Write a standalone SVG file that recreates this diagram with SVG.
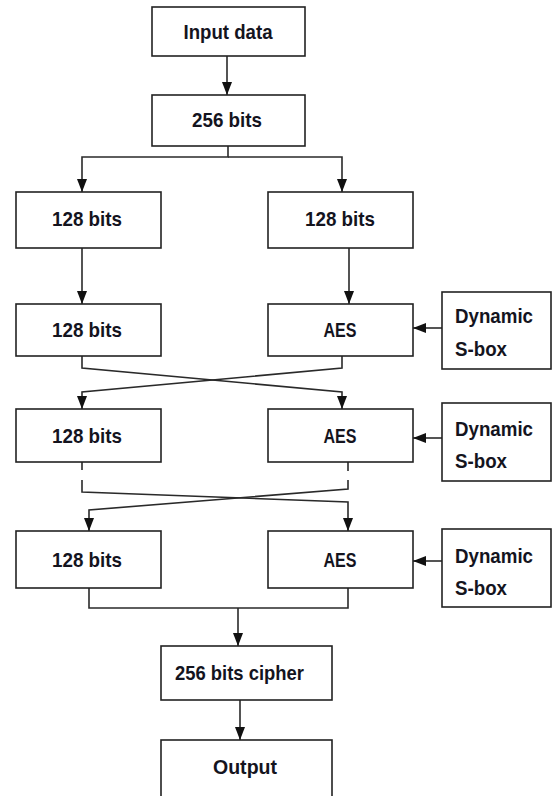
<svg xmlns="http://www.w3.org/2000/svg" width="552" height="796" viewBox="0 0 552 796">
<style>
.box{fill:#fff;stroke:#222;stroke-width:1.6}
.lbl{font-family:"Liberation Sans",Arial,sans-serif;font-weight:bold;font-size:21px;fill:#14141e}
.mid{text-anchor:middle}
.ln{fill:none;stroke:#2a2a2a;stroke-width:1.6}
.ar{marker-end:url(#ah)}
</style>
<defs>
<marker id="ah" markerUnits="userSpaceOnUse" markerWidth="13" markerHeight="11" refX="13" refY="5" orient="auto">
<path d="M0,0 L13,5 L0,10 z" fill="#111"/>
</marker>
</defs>
<rect width="552" height="796" fill="#fff"/>
<g id="connectors">
<path class="ln ar" d="M227,56 V95"/>
<path class="ln ar" d="M228,146 V157 H82 V192"/>
<path class="ln ar" d="M228,157 H342 V192"/>
<path class="ln ar" d="M82,248 V304"/>
<path class="ln ar" d="M349,248 V304"/>
<path class="ln ar" d="M442,328 H413"/>
<path class="ln ar" d="M82,356 V368 L342,392 V409"/>
<path class="ln ar" d="M342,356 V368 L82,392 V409"/>
<path class="ln ar" d="M442,438 H413"/>
<path class="ln" d="M82,462 V470 M348,462 V471"/>
<path class="ln ar" d="M82,480 V492 L348,502 V531"/>
<path class="ln ar" d="M348,480 V489 L89,510 V531"/>
<path class="ln ar" d="M442,561 H413"/>
<path class="ln" d="M89,588 V608 H348 V588"/>
<path class="ln ar" d="M238,608 V646"/>
<path class="ln ar" d="M240,700 V740"/>
</g>
<g id="input"><rect class="box" x="152" y="7" width="153" height="49"/><text class="lbl mid" x="228" y="39" textLength="89" lengthAdjust="spacingAndGlyphs">Input data</text></g>
<g id="bits256"><rect class="box" x="152" y="95" width="153" height="51"/><text class="lbl mid" x="227" y="127" textLength="70" lengthAdjust="spacingAndGlyphs">256 bits</text></g>
<g id="l1"><rect class="box" x="16" y="192" width="145" height="56"/><text class="lbl mid" x="87" y="226" textLength="70" lengthAdjust="spacingAndGlyphs">128 bits</text></g>
<g id="r1"><rect class="box" x="268" y="192" width="145" height="56"/><text class="lbl mid" x="340" y="226" textLength="70" lengthAdjust="spacingAndGlyphs">128 bits</text></g>
<g id="l2"><rect class="box" x="16" y="304" width="145" height="52"/><text class="lbl mid" x="87" y="337" textLength="70" lengthAdjust="spacingAndGlyphs">128 bits</text></g>
<g id="aes1"><rect class="box" x="268" y="304" width="145" height="52"/><text class="lbl mid" x="340" y="337" textLength="33" lengthAdjust="spacingAndGlyphs">AES</text></g>
<g id="sbox1"><rect class="box" x="442" y="292" width="109" height="77"/><text class="lbl" x="455" y="323" textLength="78" lengthAdjust="spacingAndGlyphs">Dynamic</text><text class="lbl" x="455" y="356" textLength="52" lengthAdjust="spacingAndGlyphs">S-box</text></g>
<g id="l3"><rect class="box" x="16" y="409" width="145" height="53"/><text class="lbl mid" x="87" y="443" textLength="70" lengthAdjust="spacingAndGlyphs">128 bits</text></g>
<g id="aes2"><rect class="box" x="268" y="409" width="145" height="53"/><text class="lbl mid" x="340" y="443" textLength="33" lengthAdjust="spacingAndGlyphs">AES</text></g>
<g id="sbox2"><rect class="box" x="442" y="403" width="109" height="78"/><text class="lbl" x="455" y="436" textLength="78" lengthAdjust="spacingAndGlyphs">Dynamic</text><text class="lbl" x="455" y="468" textLength="52" lengthAdjust="spacingAndGlyphs">S-box</text></g>
<g id="l4"><rect class="box" x="16" y="531" width="145" height="57"/><text class="lbl mid" x="87" y="567" textLength="70" lengthAdjust="spacingAndGlyphs">128 bits</text></g>
<g id="aes3"><rect class="box" x="268" y="531" width="145" height="57"/><text class="lbl mid" x="340" y="567" textLength="33" lengthAdjust="spacingAndGlyphs">AES</text></g>
<g id="sbox3"><rect class="box" x="442" y="529" width="109" height="78"/><text class="lbl" x="455" y="563" textLength="78" lengthAdjust="spacingAndGlyphs">Dynamic</text><text class="lbl" x="455" y="595" textLength="52" lengthAdjust="spacingAndGlyphs">S-box</text></g>
<g id="cipher"><rect class="box" x="161" y="646" width="171" height="54"/><text class="lbl" x="175" y="680" textLength="129" lengthAdjust="spacingAndGlyphs">256 bits cipher</text></g>
<g id="output"><rect class="box" x="161" y="740" width="171" height="62"/><text class="lbl mid" x="245" y="774" textLength="64" lengthAdjust="spacingAndGlyphs">Output</text></g>
</svg>
